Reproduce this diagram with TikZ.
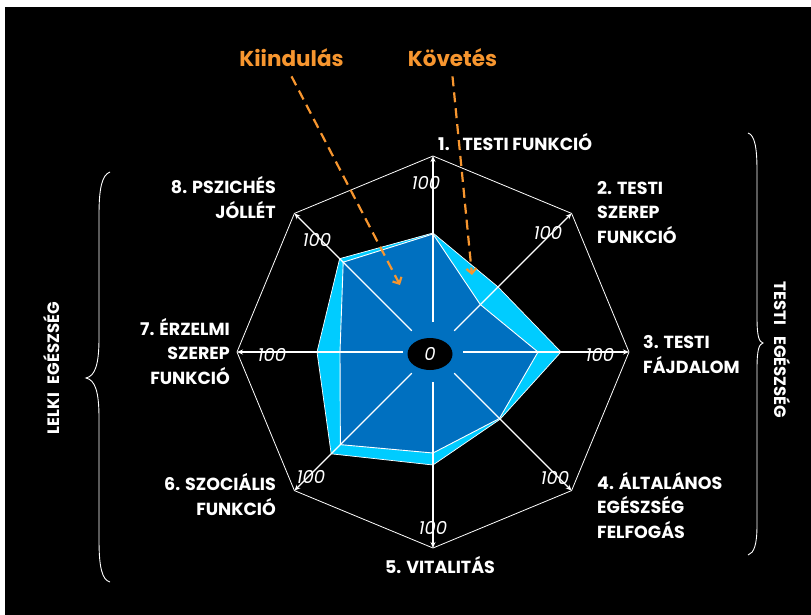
\documentclass[tikz,border=0pt]{standalone}
\usepackage{fontspec}
\setmainfont{Poppins}
\usetikzlibrary{arrows.meta,shapes.geometric}
\definecolor{dblue}{RGB}{0,112,192}
\definecolor{lcyan}{RGB}{0,204,255}
\definecolor{orng}{RGB}{247,150,47}
\begin{document}
\begin{tikzpicture}[x=1pt,y=-1pt,
  lbl/.style={text=white, font=\fontsize{17.5}{24.5}\selectfont\bfseries, inner sep=0pt},
  sidelbl/.style={text=white, font=\fontsize{16.5}{18}\selectfont\bfseries, inner sep=0pt},
  hundred/.style={text=white, font=\fontsize{18}{18}\selectfont\itshape, inner sep=0pt},
  titletext/.style={text=orng, font=\fontsize{21.5}{24}\selectfont\bfseries, inner sep=0pt},
  spoke/.style={white, line width=1.2pt, -{Stealth[length=6pt,width=5pt]}},
  dasharrow/.style={orng, line width=2.2pt, dash pattern=on 10pt off 6pt, -{Straight Barb[length=5pt,width=10pt]}},
  thinwhite/.style={white, line width=0.8pt},
  bracestyle/.style={white, line width=0.9pt}]
\useasboundingbox (0,0) rectangle (811,615);
\fill[white] (0,0) rectangle (811,615);
\fill[black] (5,7) rectangle (811,615);

\begin{scope}[shift={(433,352)}]
  \foreach \a [count=\i from 0] in {-90,-45,0,45,90,135,180,225}
    \coordinate (v\i) at (\a:196);
  % Kovetes polygon
  \filldraw[fill=lcyan, draw=white, line width=0.7pt]
    (-90:119) -- (-45:92) -- (0:128) -- (45:95) -- (90:113) -- (135:144) -- (180:116) -- (225:132) -- cycle;
  % Kiindulas polygon
  \filldraw[fill=dblue, draw=white, line width=0.9pt]
    (-90:118) -- (-45:67) -- (0:105) -- (45:94) -- (90:101) -- (135:131) -- (180:93) -- (225:127) -- cycle;
  % octagon
  \draw[thinwhite] (v0) -- (v1) -- (v2) -- (v3) -- (v4) -- (v5) -- (v6) -- (v7) -- cycle;
  % spokes
  \foreach \a [count=\i from 0] in {-90,-45,0,45,90,135,180,225}
    \draw[spoke] (\a:30) -- (v\i);
\end{scope}

\node[ellipse, fill=black, minimum width=45pt, minimum height=32pt, inner sep=0pt,
      text=white, font=\fontsize{18}{18}\selectfont\itshape] (zero) at (430,354) {0};

% 100 labels
\node[hundred] (h0) at (426,183) {100};
\node[hundred] (h1) at (548,233) {100};
\node[hundred] (h2) at (600,355) {100};
\node[hundred] (h3) at (555,478) {100};
\node[hundred] (h4) at (433,528) {100};
\node[hundred] (h5) at (311,477) {100};
\node[hundred] (h6) at (272,355) {100};
\node[hundred] (h7) at (317,240) {100};

% category labels (base anchor = baseline of last line)
\node[lbl, anchor=base west] (l1) at (438,150) {1.\hspace{13pt}TESTI FUNKCIÓ};
\node[lbl, anchor=base west, align=left] (l2) at (597,243) {2. TESTI\\SZEREP\\FUNKCIÓ};
\node[lbl, anchor=base west, align=left] (l3) at (643,373) {3. TESTI\\FÁJDALOM};
\node[lbl, anchor=base west, align=left] (l4) at (597,538) {4. ÁLTALÁNOS\\EGÉSZSÉG\\FELFOGÁS};
\node[lbl, anchor=base] (l5) at (440,573) {5. VITALITÁS};
\node[lbl, anchor=base east, align=right] (l6) at (276,515) {6. SZOCIÁLIS\\FUNKCIÓ};
\node[lbl, anchor=base east, align=right] (l7) at (230,384) {7. ÉRZELMI\\SZEREP\\FUNKCIÓ};
\node[lbl, anchor=base east, align=right] (l8) at (276,218) {8. PSZICHÉS\\JÓLLÉT};

% side labels
\node[sidelbl, rotate=-90] (testi) at (782,350) {TESTI\hspace{11pt}EGÉSZSÉG};
\node[sidelbl, rotate=90] (lelki) at (52,368) {LELKI\hspace{9pt}EGÉSZSÉG};

% braces
\draw[bracestyle] (748,133) .. controls (754,135) and (757,145) .. (757,170)
  -- (757,318) .. controls (757,336) and (759,342) .. (763,343)
  .. controls (759,344) and (757,350) .. (757,368)
  -- (757,525) .. controls (757,545) and (754,553) .. (748,555);
\draw[bracestyle] (110,172) .. controls (102,175) and (99,188) .. (99,215)
  -- (99,338) .. controls (99,365) and (95,376) .. (86,378)
  .. controls (95,380) and (99,391) .. (99,418)
  -- (99,540) .. controls (99,567) and (102,580) .. (110,582);

% titles and pointers
\node[titletext, anchor=base] (kiind) at (291.5,67) {Kiindulás};
\node[titletext, anchor=base] (kovet) at (452.5,67) {Követés};
\coordinate (kiindtip) at (400,285);
\coordinate (kovettip) at (472,275);
\draw[dasharrow] ([yshift=-9pt]kiind.south) -- (kiindtip);
\draw[dasharrow] ([yshift=-9pt]kovet.south) -- (kovettip);
\end{tikzpicture}
\end{document}
